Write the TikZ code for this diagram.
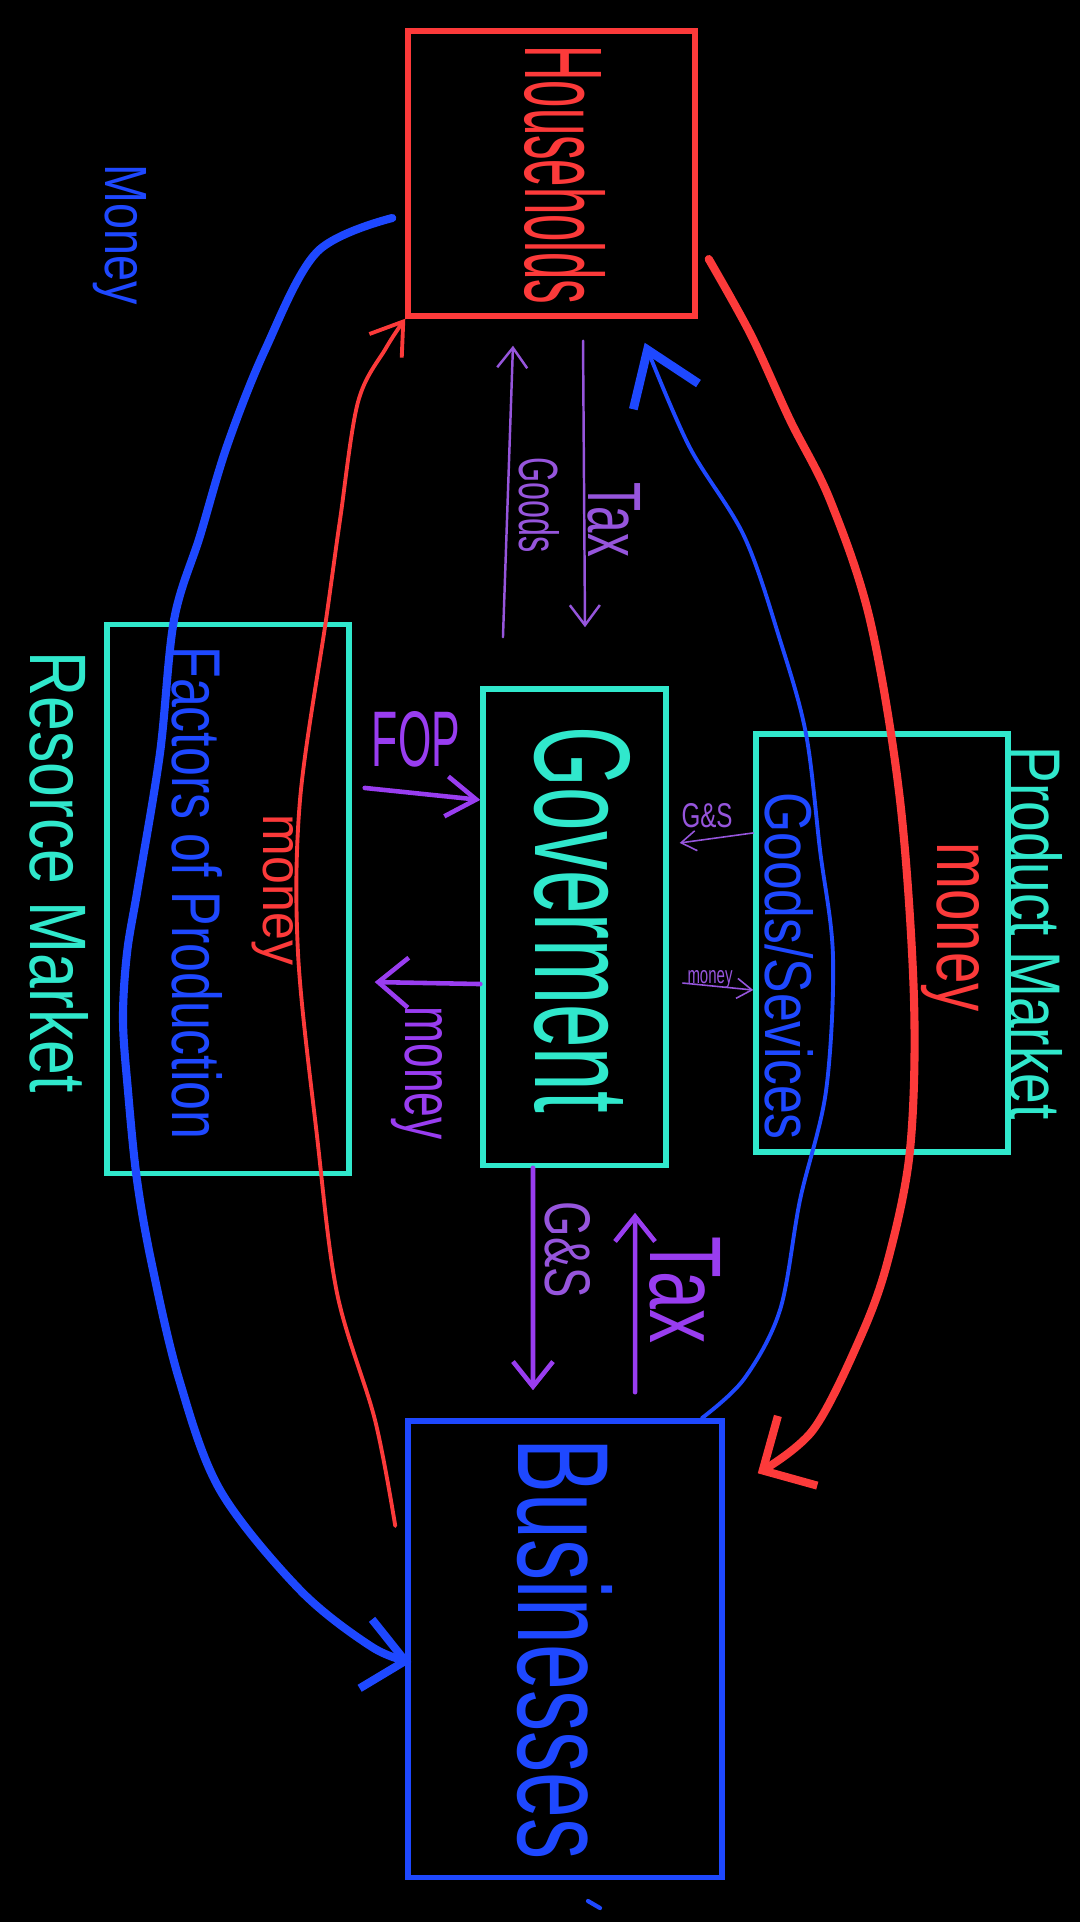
\documentclass[tikz,border=0pt]{standalone}
\usepackage{fontspec}
\setmainfont{Liberation Sans}
\usepackage{graphicx}
\usetikzlibrary{arrows.meta, positioning, calc}
\definecolor{hhred}{RGB}{252, 58, 58}
\definecolor{bizblue}{RGB}{30, 72, 255}
\definecolor{mktteal}{RGB}{48, 232, 204}
\definecolor{govpurple}{RGB}{153, 61, 240}
\definecolor{govlight}{RGB}{150, 85, 220}
\newcommand{\handtxt}[3]{\resizebox{#1}{#2}{#3}}

\begin{document}
\begin{tikzpicture}[x=0.01cm, y=-0.01cm,
    box/.style={draw, line width=1.5pt, inner sep=0},
    rotlbl/.style={rotate=-90, anchor=base, inner sep=0},
    uplbl/.style={anchor=base, inner sep=0},
    flowthick/.style={line width=2.3pt, line cap=round, line join=round},
    flowthin/.style={line width=1.1pt, line cap=round, line join=round},
    govarrow/.style={govpurple, line width=1.3pt, line cap=round},
    govthin/.style={govlight, line width=0.45pt, line cap=round}]

    \fill[black] (0,0) rectangle (1080,1922);
    \useasboundingbox (0,0) rectangle (1080,1922);

    % Sectors and markets
    \node[box, draw=hhred, minimum width=2.87cm, minimum height=2.85cm] (hh) at (551.5,173.5) {};
    \node[box, draw=mktteal, minimum width=2.42cm, minimum height=5.48cm] (resmkt) at (228,899) {};
    \node[box, draw=mktteal, minimum width=1.83cm, minimum height=4.76cm] (gov) at (574.5,927) {};
    \node[box, draw=mktteal, minimum width=2.52cm, minimum height=4.18cm] (prodmkt) at (882,943) {};
    \node[box, draw=bizblue, minimum width=3.14cm, minimum height=4.56cm] (biz) at (565,1649) {};

    % Labels
    \node[rotlbl, text=hhred] (hhlbl) at (525,175) {\handtxt{2.59cm}{0.80cm}{Households}};
    \node[rotlbl, text=bizblue] (bizlbl) at (518,1649) {\handtxt{4.20cm}{0.94cm}{Businesses}};
    \node[rotlbl, text=mktteal] (govlbl) at (535,920) {\handtxt{3.86cm}{0.95cm}{Goverment}};
    \node[rotlbl, text=bizblue] (foplbl) at (172,893) {\handtxt{4.93cm}{0.50cm}{Factors of Production}};
    \node[rotlbl, text=hhred] (resmoney) at (263,890) {\handtxt{1.50cm}{0.30cm}{money}};
    \node[rotlbl, text=mktteal] (reslbl) at (30,872) {\handtxt{4.41cm}{0.58cm}{Resorce Market}};
    \node[rotlbl, text=bizblue] (toplbl) at (105,235) {\handtxt{1.40cm}{0.41cm}{Money}};
    \node[rotlbl, text=bizblue] (gslbl) at (765,966) {\handtxt{3.47cm}{0.48cm}{Goods/Sevices}};
    \node[rotlbl, text=hhred] (prodmoney) at (937,927) {\handtxt{1.69cm}{0.42cm}{money}};
    \node[rotlbl, text=mktteal] (prodlbl) at (1010,933) {\handtxt{3.73cm}{0.52cm}{Product Market}};

    % Government labels
    \node[uplbl, text=govpurple] (fop) at (416,766) {\handtxt{0.88cm}{0.55cm}{FOP}};
    \node[rotlbl, text=govpurple] (govmoney) at (405,1073) {\handtxt{1.33cm}{0.37cm}{money}};
    \node[uplbl, text=govlight] (gsup) at (707,827) {\handtxt{0.51cm}{0.24cm}{G\&S}};
    \node[uplbl, text=govlight] (moneyup) at (710,983) {\handtxt{0.45cm}{0.13cm}{money}};
    \node[rotlbl, text=govlight] (goodslbl) at (519,505) {\handtxt{0.95cm}{0.40cm}{Goods}};
    \node[rotlbl, text=govlight] (taxlbl) at (588,520) {\handtxt{0.74cm}{0.52cm}{Tax}};
    \node[rotlbl, text=govlight] (gsdown) at (545,1250) {\handtxt{0.96cm}{0.45cm}{G\&S}};
    \node[rotlbl, text=govpurple] (taxdown) at (650,1290) {\handtxt{1.06cm}{0.70cm}{Tax}};

    % Free ends of the flows
    \coordinate (blueA) at ([xshift=-0.13cm,yshift=-0.445cm]hh.west);
    \coordinate (blueB) at ([xshift=0.06cm,yshift=-0.13cm]biz.west);
    \coordinate (redA) at ([xshift=-0.1cm,yshift=1.23cm]biz.west);
    \coordinate (redthickA) at ([xshift=0.11cm,yshift=-0.855cm]hh.east);
    \coordinate (redthickB) at ([xshift=0.33cm,yshift=-0.55cm]biz.north east);
    \coordinate (bluethinA) at ([xshift=-0.23cm]biz.north east);
    \coordinate (bluethinB) at ([xshift=-0.53cm,yshift=-0.24cm]hh.south east);

    % Outer money flow
    \draw[flowthick, bizblue, -{Straight Barb[length=4mm,width=7mm]}]
        plot[smooth, tension=0.55] coordinates {(blueA) (317,252) (265,350) (227,446) (200,536) (174,620) (160,753) (138,887) (127,953) (123,1020) (128,1091) (137,1180) (152,1265) (179,1379) (220,1490) (300,1590) (372,1647) (blueB)};
    % Inner money flow (factors)
    \draw[flowthin, hhred, -{Straight Barb[length=3mm,width=4mm]}]
        plot[smooth, tension=0.55] coordinates {(redA) (375,1420) (337,1293) (317,1136) (298,953) (300,800) (326,620) (340,520) (358,402) (386,348) (hh.south west)};
    % Product market money
    \draw[flowthick, hhred, -{Straight Barb[length=4mm,width=8mm]}]
        plot[smooth, tension=0.55] coordinates {(redthickA) (751,335) (790,420) (830,500) (870,620) (900,800) (914,1000) (910,1150) (888,1260) (861,1336) (813,1430) (redthickB)};
    % Goods and services
    \draw[flowthin, bizblue, -{Straight Barb[length=5mm,width=7mm,line width=2.5pt]}]
        plot[smooth, tension=0.55] coordinates {(bluethinA) (744,1379) (780,1310) (800,1200) (826,1091) (833,957) (820,850) (806,734) (780,640) (744,536) (689,446) (bluethinB)};

    % Government flows
    \draw[govarrow, -{Straight Barb[length=3mm,width=4mm]}]
        ([xshift=0.13cm,yshift=1.11cm]resmkt.east) -- ([yshift=1.27cm]gov.west);
    \draw[govarrow, -{Straight Barb[length=3mm,width=5mm]}]
        ([yshift=-0.57cm]gov.west) -- ([xshift=0.23cm,yshift=-0.83cm]resmkt.east);
    \draw[govthin, -{Straight Barb[length=1.5mm,width=2mm]}]
        ([yshift=1.1cm]prodmkt.west) -- ([xshift=0.11cm,yshift=0.84cm]gov.east);
    \draw[govthin, -{Straight Barb[length=1.5mm,width=2mm]}]
        ([xshift=0.14cm,yshift=-0.56cm]gov.east) -- ([yshift=-0.47cm]prodmkt.west);
    \draw[govthin, line width=0.7pt, -{Straight Barb[length=2mm,width=3mm]}]
        ([xshift=-0.715cm,yshift=0.49cm]gov.north) -- ([xshift=-0.385cm,yshift=-0.27cm]hh.south);
    \draw[govthin, line width=0.7pt, -{Straight Barb[length=2mm,width=3mm]}]
        ([xshift=0.315cm,yshift=-0.22cm]hh.south) -- ([xshift=0.105cm,yshift=0.59cm]gov.north);
    \draw[govarrow, -{Straight Barb[length=2.5mm,width=4mm]}]
        ([xshift=-0.415cm]gov.south) -- ([xshift=-0.32cm,yshift=0.28cm]biz.north);
    \draw[govarrow, -{Straight Barb[length=2.5mm,width=4mm]}]
        ([xshift=0.7cm,yshift=0.26cm]biz.north) -- ([xshift=0.605cm,yshift=-0.45cm]gov.south);

    % stray mark under Businesses
    \draw[bizblue, line width=1.2pt, line cap=round] (588,1901) -- (600,1908);
\end{tikzpicture}
\end{document}
